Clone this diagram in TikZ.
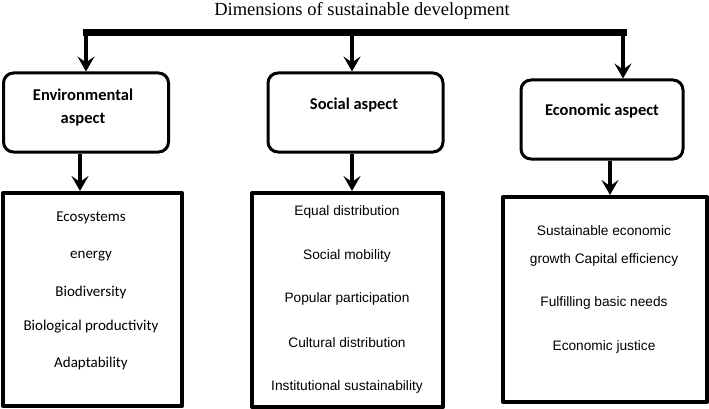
\documentclass[tikz,border=0pt]{standalone}
\usepackage{fontspec}
\setmainfont{Liberation Serif}
\newfontfamily\calibfont{Carlito}
\newfontfamily\arialfont{Liberation Sans}
\usetikzlibrary{arrows.meta}

\begin{document}
\begin{tikzpicture}[x=1pt, y=-1pt, line join=round]
\tikzset{%
	head/.style = {draw, rectangle, rounded corners = 10pt, line width = 3pt, minimum height = 79pt},
	headtext/.style = {font=\calibfont\fontsize{16.5}{23}\selectfont\bfseries, align=center, inner sep=0pt},
	ds/.style = {draw, rectangle, line width = 4pt, inner sep=0pt},
	envitem/.style = {font=\calibfont\fontsize{15}{18}\selectfont, inner sep=0pt},
	item/.style = {font=\arialfont\fontsize{13.7}{28}\selectfont, inner sep=0pt, align=center},
	bar/.style = {line width=7pt, line cap=rect},
	con/.style = {-{Stealth[length=15pt, width=17pt, inset=6pt]}, line width=4pt}
}
\useasboundingbox (0,0) rectangle (709,409);

% Title and top bar

\draw node at (362,11) [font=\fontsize{18.5}{22}\selectfont, inner sep=0pt] (title) {Dimensions of sustainable development};

\coordinate (bl) at (86,33);
\coordinate (bm) at (352,33);
\coordinate (br) at (623,33);
\draw[bar] (bl) -- (br);

% Headers

\draw node at (86,112.5) [head, minimum width=165pt] (envh) {};
\draw node at (83,107.5) [headtext] (envt) {Environmental\\aspect};
\draw node at (355.5,112.5) [head, minimum width=175pt] (sh) {};
\draw node at (354,105) [headtext] (st) {Social aspect};
\draw node at (602,119.5) [head, minimum width=162pt] (eh) {};
\draw node at (602,111) [headtext] (et) {Economic aspect};

% Content boxes

\draw node at (92.5,299.5) [ds, minimum width=179pt, minimum height=213pt] (eb) {};
\draw node at (91,218) [envitem] (e1) {Ecosystems};
\draw node at (91,256) [envitem] (e2) {energy};
\draw node at (91,292) [envitem] (e3) {Biodiversity};
\draw node at (91,327) [envitem] (e4) {Biological productivity};
\draw node at (91,363) [envitem] (e5) {Adaptability};

\draw node at (347.5,300) [ds, minimum width=191pt, minimum height=214pt] (sb) {};
\draw node at (347,212) [item] (s1) {Equal distribution};
\draw node at (347,256) [item] (s2) {Social mobility};
\draw node at (347,299) [item] (s3) {Popular participation};
\draw node at (347,343) [item] (s4) {Cultural distribution};
\draw node at (347,387) [item] (s5) {Institutional sustainability};

\draw node at (605,299.5) [ds, minimum width=204pt, minimum height=205pt] (cb) {};
\draw node at (604,246) [item] (c1) {Sustainable economic\\growth Capital efficiency};
\draw node at (604,303) [item] (c2) {Fulfilling basic needs};
\draw node at (604,347) [item] (c3) {Economic justice};

\draw[con] (bl) -- (envh.north -| bl);
\draw[con] (bm) -- (sh.north -| bm);
\draw[con] (br) -- (eh.north -| br);
\draw[con] ([xshift=-6pt]envh.south) -- ([xshift=-6pt]envh.south |- eb.north);
\draw[con] ([xshift=-3.5pt]sh.south) -- ([xshift=-3.5pt]sh.south |- sb.north);
\draw[con] ([xshift=8pt]eh.south) -- ([xshift=8pt]eh.south |- cb.north);

\end{tikzpicture}
\end{document}
